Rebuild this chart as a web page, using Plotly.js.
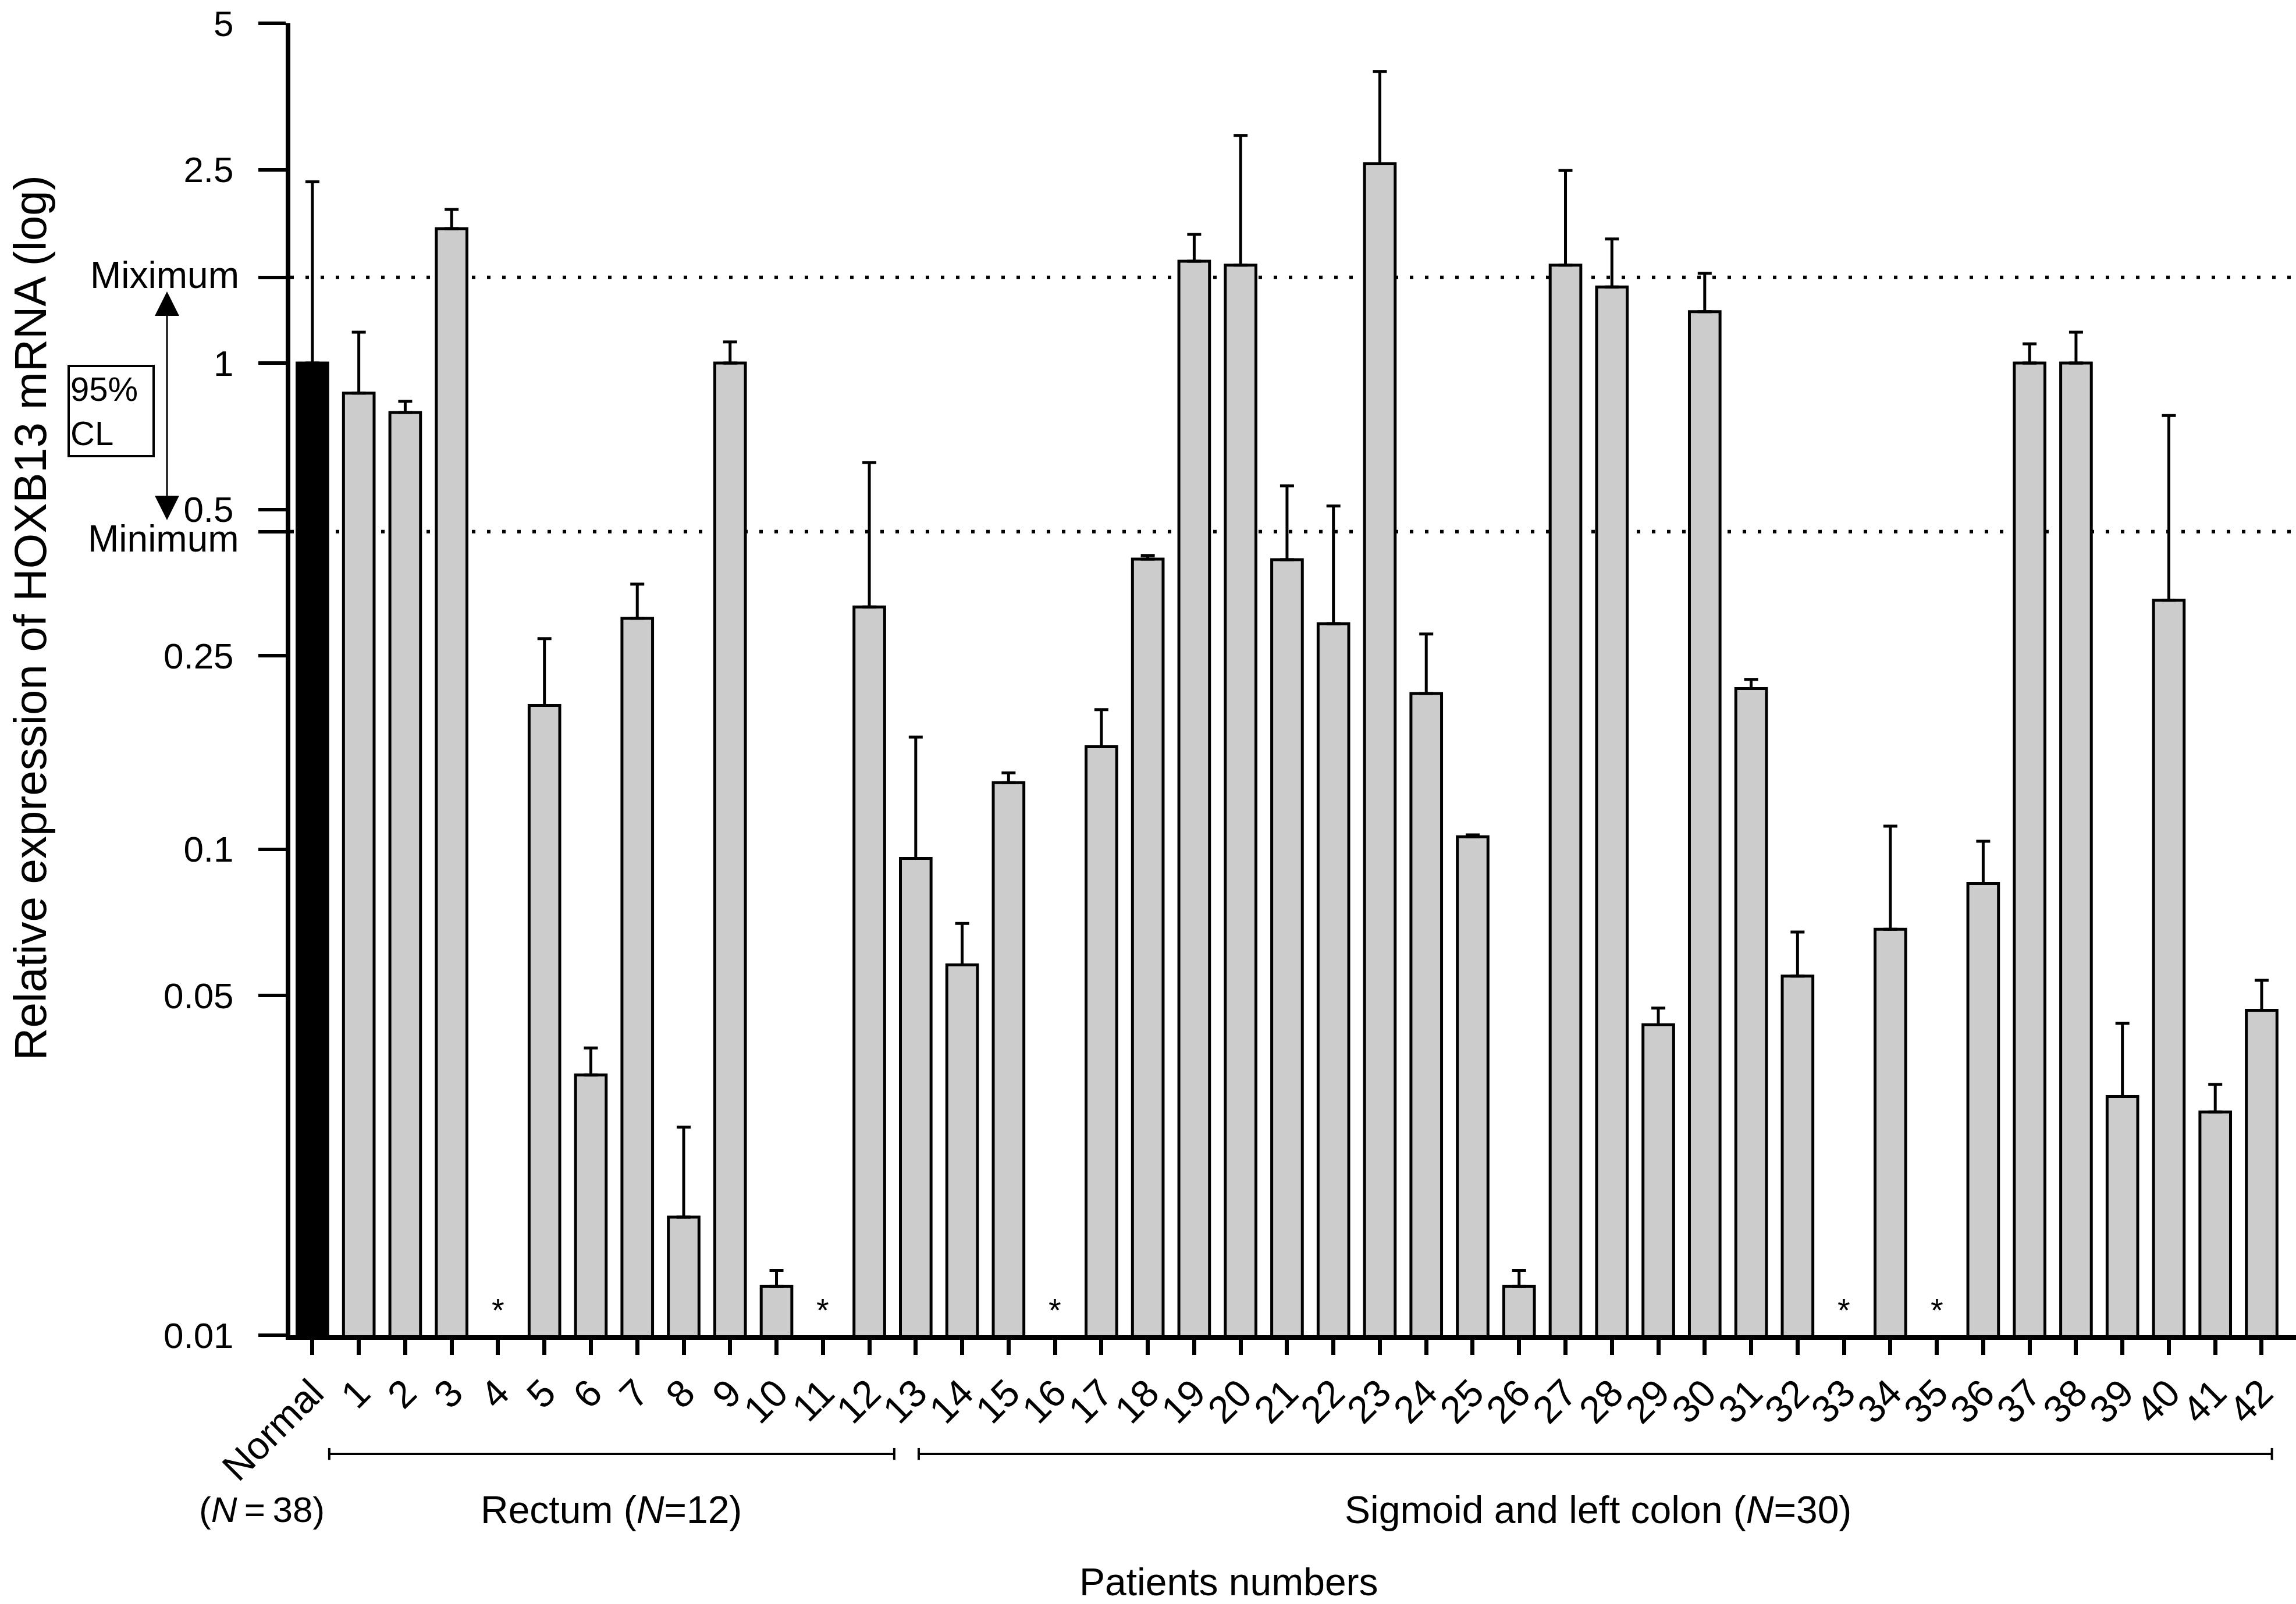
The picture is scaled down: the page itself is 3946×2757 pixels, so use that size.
<!DOCTYPE html>
<html>
<head>
<meta charset="utf-8">
<script src="https://cdn.plot.ly/plotly-3.0.1.min.js"></script>
<style>body{margin:0;background:#fff}</style>
</head>
<body>
<div id="chart" style="width:3946px;height:2757px"></div>
<script>
// categories: the normal pool and patients 1..42
var patients = ["Normal","1","2","3","4","5","6","7","8","9","10","11","12","13","14","15",
  "16","17","18","19","20","21","22","23","24","25","26","27","28","29","30","31","32",
  "33","34","35","36","37","38","39","40","41","42"];

// relative expression (bar tops), null = not detected (*)
var expression = [1.0, 0.867, 0.791, 1.89, null, 0.1975, 0.0343, 0.2985, 0.0175, 1.0, 0.0126,
  null, 0.315, 0.0957, 0.0578, 0.137, null, 0.1624, 0.395, 1.62, 1.59, 0.394, 0.291, 2.57,
  0.209, 0.106, 0.0126, 1.59, 1.434, 0.0435, 1.275, 0.214, 0.0548, null, 0.0684, null,
  0.085, 1.0, 1.0, 0.031, 0.325, 0.0288, 0.0466];

// upper end of each error bar
var errorTop = [2.36, 1.157, 0.834, 2.07, null, 0.271, 0.039, 0.351, 0.0268, 1.105, 0.0136,
  null, 0.624, 0.170, 0.0703, 0.1435, null, 0.1936, 0.402, 1.84, 2.94, 0.559, 0.508, 3.98,
  0.277, 0.107, 0.0136, 2.49, 1.80, 0.0471, 1.53, 0.2235, 0.0675, null, 0.1115, null,
  0.1038, 1.095, 1.157, 0.0438, 0.78, 0.0328, 0.0537];

var missing = ["4","11","16","33","35"];

// 95% confidence limits of the normal group
var ciMax = 1.5;
var ciMin = 0.45;

var tickValues = [0.01, 0.05, 0.1, 0.25, ciMin, 0.5, 1, ciMax, 2.5, 5];
var tickLabels = ["0.01","0.05","0.1","0.25","","0.5","1","","2.5","5"];

var yMin = 0.01, yMax = 5;
var font = "Liberation Sans, Arial, Helvetica, sans-serif";

var errPlus = [], errMinus = [], colors = [];
for (var i = 0; i < patients.length; i++) {
  if (expression[i] == null) {
    errPlus.push(null);
    errMinus.push(null);
  } else {
    errPlus.push(errorTop[i] - expression[i]);
    errMinus.push(0);
  }
  colors.push(patients[i] == "Normal" ? "#000000" : "#cccccc");
}

var bars = {
  type: "bar",
  x: patients,
  y: expression,
  width: 0.66,
  marker: { color: colors, line: { color: "#000", width: 5 } },
  error_y: {
    type: "data",
    symmetric: false,
    array: errPlus,
    arrayminus: errMinus,
    color: "#000",
    thickness: 5,
    width: 12
  },
  hoverinfo: "none"
};

// paper y of a value on the log axis
function yPaper(v) {
  return (Math.log10(v) - Math.log10(yMin)) / (Math.log10(yMax) - Math.log10(yMin));
}

var annotations = [];
missing.forEach(function (p) {
  annotations.push({
    x: p, xref: "x", y: 0, yref: "paper", yanchor: "bottom", yshift: 10,
    text: "*", showarrow: false, font: { family: font, size: 56, color: "#000" }
  });
});

function label(txt, x, y, size, angle) {
  annotations.push({
    text: txt, xref: "paper", yref: "paper", x: x, y: y,
    xanchor: "center", yanchor: "middle", showarrow: false,
    textangle: angle || 0,
    font: { family: font, size: size, color: "#000" }
  });
}

label("Relative expression of HOXB13 mRNA (log)", -0.1297, 0.5468, 78, -90);
label("(<i>N</i>\u2009=\u200938)", -0.0142, -0.133, 62);
label("Rectum (<i>N</i>=12)", 0.1599, -0.133, 66);
label("Sigmoid and left colon (<i>N</i>=30)", 0.6519, -0.133, 66);
label("Patients numbers", 0.4679, -0.188, 66);

// limit names next to their ticks
[["Miximum", ciMax, 4], ["Minimum", ciMin, -12]].forEach(function (d) {
  annotations.push({
    text: d[0], xref: "paper", yref: "paper", x: 0, y: yPaper(d[1]),
    xanchor: "right", yanchor: "middle", xshift: -86, yshift: d[2], showarrow: false,
    font: { family: font, size: 64, color: "#000" }
  });
});

// 95% CL box
annotations.push({
  text: "95%<br>CL", xref: "paper", yref: "paper", x: -0.0894, y: 0.7044,
  xanchor: "center", yanchor: "middle", align: "left", showarrow: false,
  width: 140, height: 149, borderpad: 1, bordercolor: "#000", borderwidth: 4,
  font: { family: font, size: 58, color: "#000" }
});

// double arrow between the limits
annotations.push({
  text: " ", xref: "paper", yref: "paper", x: -0.0615, y: 0.7956,
  ax: 0, ay: 395, axref: "pixel", ayref: "pixel",
  showarrow: true, arrowside: "end+start", arrowhead: 2, startarrowhead: 2,
  arrowsize: 2.8, startarrowsize: 2.8, arrowwidth: 3, arrowcolor: "#000",
  standoff: 0, startstandoff: 0, font: { size: 1 }
});

var shapes = [];
[ciMax, ciMin].forEach(function (v) {
  shapes.push({
    type: "line", layer: "below", xref: "paper", x0: 0, x1: 1,
    yref: "y", y0: v, y1: v,
    line: { color: "#000", width: 6, dash: "6px,20px" }
  });
});

function bracket(x0, x1, y) {
  shapes.push({ type: "line", xref: "paper", yref: "paper", x0: x0, x1: x1, y0: y, y1: y,
    line: { color: "#000", width: 4 } });
  [x0, x1].forEach(function (x) {
    shapes.push({ type: "line", xref: "paper", yref: "paper", x0: x, x1: x,
      y0: y - 0.0045, y1: y + 0.0045, line: { color: "#000", width: 4 } });
  });
}
bracket(0.0194, 0.3011, -0.0905);
bracket(0.3133, 0.9880, -0.0905);

var layout = {
  width: 3946,
  height: 2757,
  margin: { l: 499, r: 0, t: 40, b: 462 },
  paper_bgcolor: "#fff",
  plot_bgcolor: "#fff",
  showlegend: false,
  font: { family: font, color: "#000" },
  xaxis: {
    type: "category",
    range: [-0.475, 42.74],
    showline: true, linewidth: 8, linecolor: "#000",
    ticks: "outside", ticklen: 26, tickwidth: 7, tickcolor: "#000",
    tickangle: -45,
    tickfont: { family: font, size: 66, color: "#000" },
    showgrid: false, zeroline: false
  },
  yaxis: {
    type: "log",
    range: [Math.log10(yMin), Math.log10(yMax)],
    showline: true, linewidth: 8, linecolor: "#000",
    ticks: "outside", ticklen: 47, tickwidth: 6, tickcolor: "#000",
    tickmode: "array", tickvals: tickValues, ticktext: tickLabels,
    ticklabelstandoff: 30,
    tickfont: { family: font, size: 62, color: "#000" },
    showgrid: false, zeroline: false
  },
  annotations: annotations,
  shapes: shapes
};

Plotly.newPlot("chart", [bars], layout, { displayModeBar: false, staticPlot: true });
</script>
</body>
</html>
